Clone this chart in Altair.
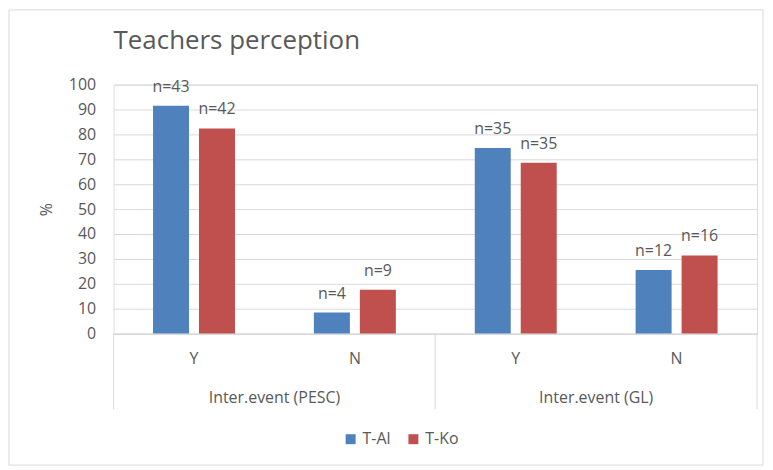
import altair as alt
import pandas as pd

# ---- data ----
groups = ["Inter.event (PESC)", "Inter.event (PESC)", "Inter.event (GL)", "Inter.event (GL)"]
answers = ["Y", "N", "Y", "N"]
series = ["T-Al", "T-Ko"]
t_al_pct = [91.5, 8.5, 74.5, 25.5]
t_ko_pct = [82.4, 17.6, 68.6, 31.4]
t_al_n = [43, 4, 35, 12]
t_ko_n = [42, 9, 35, 16]
y_ticks = [0, 10, 20, 30, 40, 50, 60, 70, 80, 90, 100]
colors = ["#4F81BD", "#C0504D"]

keys = [g + "|" + a for g, a in zip(groups, answers)]
rows = []
for i, k in enumerate(keys):
    rows.append({"key": k, "series": "T-Al", "pct": t_al_pct[i], "n": "n=%d" % t_al_n[i]})
    rows.append({"key": k, "series": "T-Ko", "pct": t_ko_pct[i], "n": "n=%d" % t_ko_n[i]})
df = pd.DataFrame(rows)

sep_start = pd.DataFrame({"key": [keys[0], keys[2]]})
sep_end = pd.DataFrame({"key": [keys[3]]})
grp_df = pd.DataFrame({"key": [keys[0], keys[2]], "label": [groups[0], groups[2]]})
border_df = pd.DataFrame({"a": [0]})

FONT = "Open Sans"
TXT = "#595959"
GRID = "#d9d9d9"

x_scale = alt.Scale(domain=keys, paddingInner=0, paddingOuter=0)
xo_scale = alt.Scale(domain=series, paddingInner=0.2174, paddingOuter=0.858)
y_scale = alt.Scale(domain=[0, 100], nice=False)

x_axis = alt.Axis(
    title=None, labelExpr="split(datum.label, '|')[1]", labelAngle=0,
    ticks=False, grid=False, domainColor=GRID, domainWidth=1,
    labelPadding=17, labelFontSize=16, labelColor=TXT, labelFont=FONT,
    labelBaseline="top",
)
y_axis = alt.Axis(
    values=y_ticks, format="d", title="%", ticks=False, domain=False,
    grid=True, gridColor=GRID, gridWidth=1,
    labelPadding=18, labelFontSize=16, labelColor=TXT, labelFont=FONT,
    titleFontSize=16, titleColor=TXT, titleFont=FONT, titleFontWeight="normal",
    titleX=-67, titleY=125, titleAngle=270, titleAlign="center", titleBaseline="middle",
)

X = alt.X("key:N", scale=x_scale, axis=x_axis, sort=keys)
XO = alt.XOffset("series:N", scale=xo_scale, sort=series)
Y = alt.Y("pct:Q", scale=y_scale, axis=y_axis)

bars = alt.Chart(df).mark_bar().encode(
    x=X, xOffset=XO, y=Y,
    color=alt.Color(
        "series:N", scale=alt.Scale(domain=series, range=colors),
        legend=alt.Legend(
            title=None, orient="none", legendX=230, legendY=348,
            direction="horizontal", symbolType="square", symbolSize=100,
            symbolStrokeWidth=0, labelFontSize=16, labelColor=TXT, labelFont=FONT,
            columnPadding=14, labelOffset=4,
        ),
    ),
)

labels = alt.Chart(df).mark_text(
    baseline="alphabetic", dy=-14, fontSize=16, font=FONT, color=TXT
).encode(x=X, xOffset=XO, y=Y, text="n:N")

rule_start = alt.Chart(sep_start).mark_rule(color=GRID, strokeWidth=1).encode(
    x=alt.X("key:N", scale=x_scale, axis=x_axis, sort=keys, bandPosition=0),
    y=alt.value(250), y2=alt.value(326),
)
rule_end = alt.Chart(sep_end).mark_rule(color=GRID, strokeWidth=1).encode(
    x=alt.X("key:N", scale=x_scale, axis=x_axis, sort=keys, bandPosition=1),
    y=alt.value(250), y2=alt.value(326),
)
grp_text = alt.Chart(grp_df).mark_text(
    baseline="alphabetic", align="center", fontSize=16, font=FONT, color=TXT
).encode(
    x=alt.X("key:N", scale=x_scale, axis=x_axis, sort=keys, bandPosition=1),
    y=alt.value(320), text="label:N",
)
border = alt.Chart(border_df).mark_rect(fill=None, stroke=GRID, strokeWidth=1).encode(
    x=alt.value(-105), x2=alt.value(652), y=alt.value(-75), y2=alt.value(382),
)

chart = alt.layer(border, bars, labels, rule_start, rule_end, grp_text).properties(
    width=646, height=250,
    autosize=alt.AutoSizeParams(type="none"),
    padding={"left": 106, "top": 76, "right": 8, "bottom": 135},
    title=alt.TitleParams(
        "Teachers perception", anchor="start", frame="group", fontSize=26,
        font=FONT, fontWeight="normal", color=TXT, baseline="alphabetic", offset=-66,
    ),
).configure_view(stroke=None).configure(background="white")

chart.save("out.html", embed_options={"renderer": "svg", "actions": False})
